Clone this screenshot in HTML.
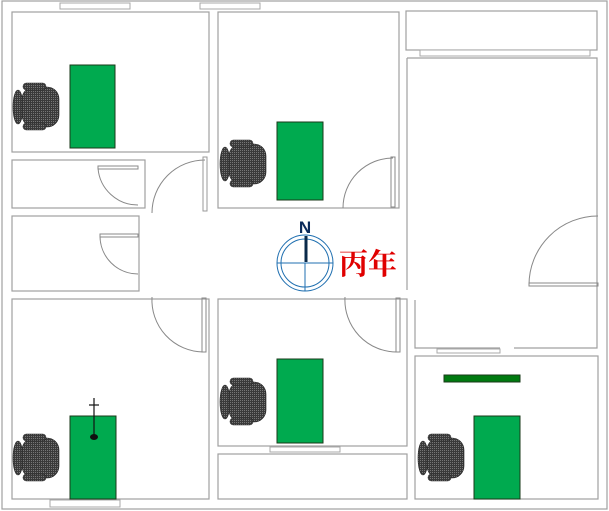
<!DOCTYPE html>
<html><head><meta charset="utf-8"><style>
html,body{margin:0;padding:0;background:#fff;width:609px;height:511px;overflow:hidden}
</style></head><body>
<svg width="609" height="511" viewBox="0 0 609 511" xmlns="http://www.w3.org/2000/svg">
<defs>
<pattern id="dots" width="2" height="2" patternUnits="userSpaceOnUse">
<rect width="2" height="2" fill="#3a3a3a"/><rect width="1" height="1" fill="#777"/>
</pattern>
<g id="chair">
<ellipse cx="5" cy="24" rx="5" ry="17" fill="url(#dots)" stroke="#222" stroke-width="0.6"/>
<rect x="9" y="4" width="37" height="40" rx="12" fill="url(#dots)" stroke="#222" stroke-width="0.6"/>
<rect x="10" y="0" width="23" height="7" rx="3.5" fill="url(#dots)" stroke="#222" stroke-width="0.6"/>
<rect x="10" y="40" width="23" height="7" rx="3.5" fill="url(#dots)" stroke="#222" stroke-width="0.6"/>
</g>
</defs>
<g fill="none" stroke="#a0a0a0" stroke-width="1.2">
<rect x="2" y="1" width="605" height="508"/>
<rect x="12" y="12" width="197" height="140"/>
<rect x="12" y="160" width="133" height="48"/>
<rect x="12" y="216" width="127" height="75"/>
<rect x="12" y="299" width="197" height="200"/>
<rect x="218" y="12" width="181" height="196"/>
<rect x="218" y="299" width="189" height="147"/>
<rect x="218" y="454" width="189" height="45"/>
<rect x="406" y="11" width="191" height="39"/>
<rect x="415" y="356" width="183" height="143"/>
<path d="M407 58 H597 V348 H514 M500 348 H415 V300 M407 290 V58"/>
</g>
<g fill="#fff" stroke="#a8a8a8" stroke-width="1">
<rect x="60" y="3" width="70" height="6"/><rect x="200" y="3" width="60" height="6"/>
<rect x="50" y="500" width="70" height="7"/><rect x="270" y="447" width="70" height="5"/>
<rect x="420" y="50" width="170" height="6"/><rect x="437" y="349" width="63" height="4"/>
</g>
<g fill="none" stroke="#888" stroke-width="1">
<path d="M152 213 A53 53 0 0 1 205 160"/><rect x="203" y="157" width="4" height="54" stroke="#999"/>
<path d="M98 168 A40 40 0 0 0 138 205"/><rect x="98" y="166" width="40" height="3"/>
<path d="M100 236 A38 38 0 0 0 138 274"/><rect x="100" y="234" width="38" height="3"/>
<path d="M343 208 A50 50 0 0 1 393 158"/><rect x="391" y="157" width="4" height="50"/>
<path d="M529 285 A69 69 0 0 1 598 216"/><rect x="529" y="283" width="69" height="3"/>
<path d="M152 297 A52 52 0 0 0 203 352"/><rect x="202" y="298" width="4" height="54"/>
<path d="M345 297 A52 52 0 0 0 397 352"/><rect x="396" y="298" width="4" height="54"/>
</g>
<g fill="#00aa4f" stroke="#1a3a1a" stroke-width="1">
<rect x="70" y="65" width="45" height="83"/>
<rect x="277" y="122" width="46" height="78"/>
<rect x="70" y="416" width="46" height="83"/>
<rect x="277" y="359" width="46" height="84"/>
<rect x="474" y="416" width="46" height="83"/>
<rect x="444" y="375" width="76" height="7" fill="#007a10"/>
</g>
<use href="#chair" x="13" y="83"/>
<use href="#chair" x="220" y="140"/>
<use href="#chair" x="13" y="434"/>
<use href="#chair" x="220" y="378"/>
<use href="#chair" x="418" y="434"/>
<g stroke="#111" stroke-width="1.2"><line x1="94" y1="398" x2="94" y2="436"/><line x1="89" y1="405" x2="99" y2="405"/></g>
<ellipse cx="94" cy="437" rx="4" ry="3" fill="#111"/>
<g fill="none" stroke="#1f6fb0" stroke-width="1">
<circle cx="305" cy="263" r="28"/><circle cx="305" cy="263" r="24"/>
<line x1="277" y1="263" x2="333" y2="263"/><line x1="305" y1="263" x2="305" y2="291"/>
</g>
<line x1="306" y1="236" x2="306" y2="262" stroke="#0a2a4a" stroke-width="3"/>
<text x="305" y="233" font-family="Liberation Sans, sans-serif" font-size="17" font-weight="bold" fill="#0a2a5a" text-anchor="middle">N</text>
<text x="339" y="274" font-family="Liberation Serif, 'Noto Serif CJK SC', serif" font-size="29" font-weight="bold" fill="#e00000">丙年</text>
</svg>
</body></html>
